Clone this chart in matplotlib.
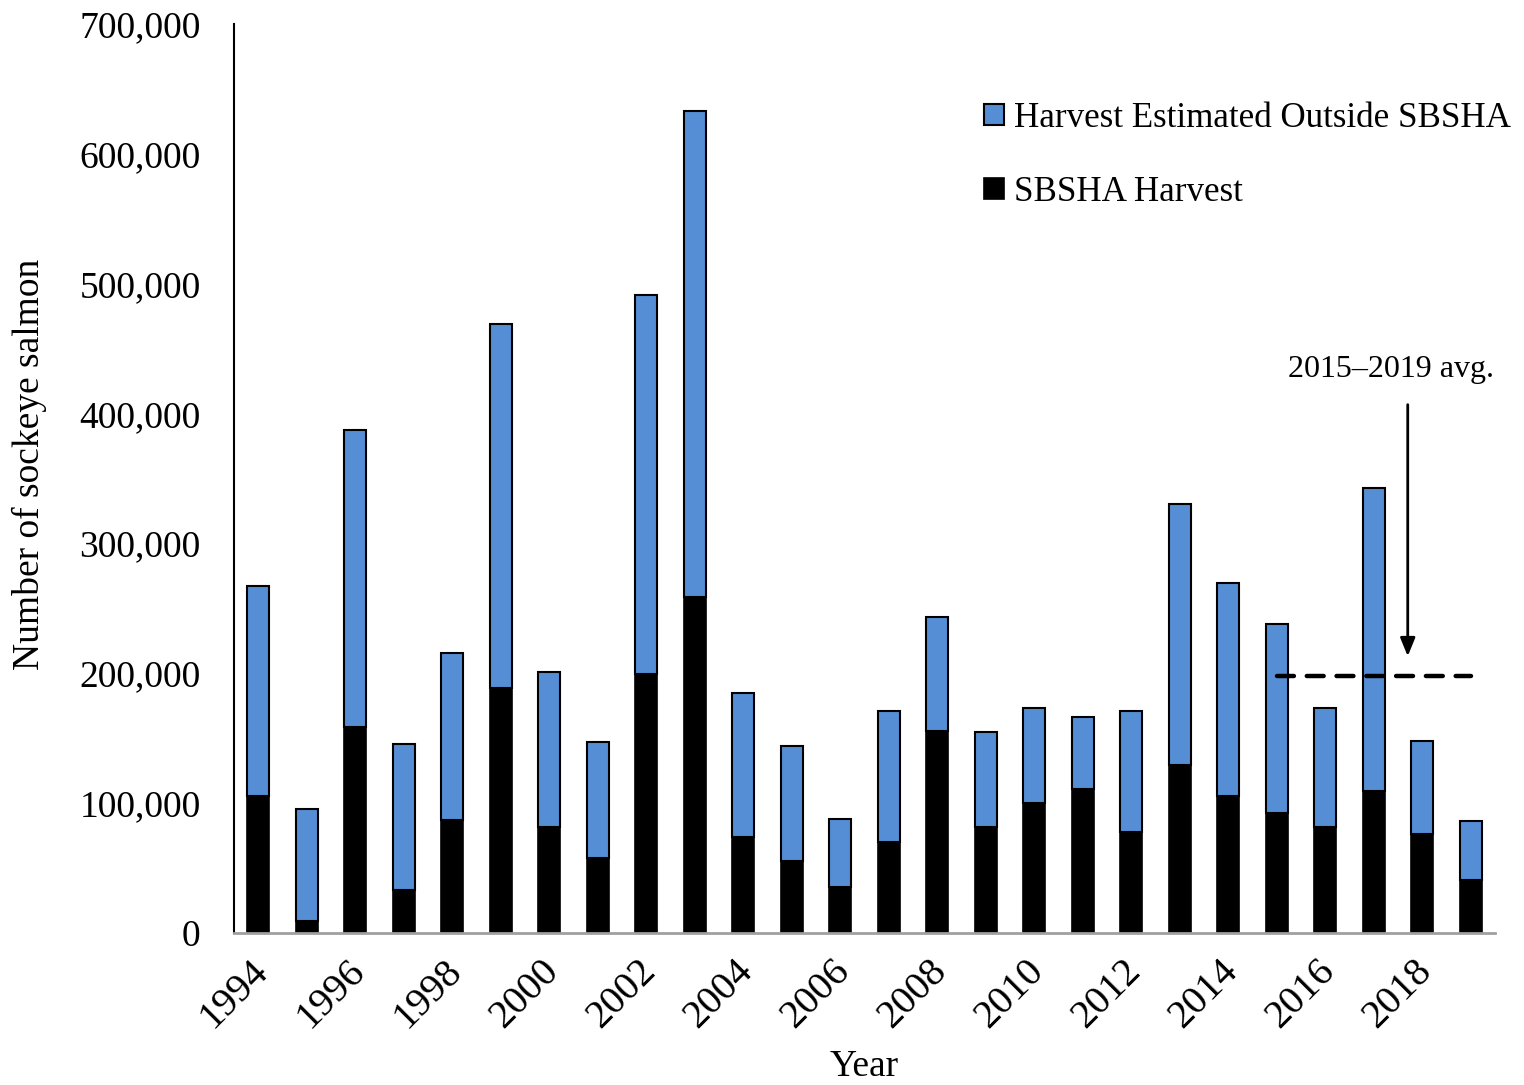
import matplotlib
matplotlib.use("Agg")
import matplotlib.pyplot as plt
from matplotlib.ticker import FuncFormatter
from matplotlib.transforms import ScaledTranslation
import numpy as np

years = list(range(1994, 2020))
sbsha = [105500, 9000, 158600, 33000, 87000, 188600, 81600, 57700, 199400, 258700,
         74000, 55400, 35400, 70000, 155500, 81600, 100000, 110900, 77800, 129300,
         105500, 92400, 81600, 109300, 76200, 40800]
total = [267000, 95500, 387000, 145500, 215500, 469000, 201000, 147000, 491000, 633000,
         184800, 144000, 87800, 171000, 243000, 154700, 173000, 166000, 171000, 330000,
         269400, 237900, 173000, 343000, 147800, 86200]
outside = [t - s for t, s in zip(total, sbsha)]
avg_years = [2015, 2016, 2017, 2018, 2019]
avg_val = np.mean([total[years.index(y)] for y in avg_years])

plt.rcParams['font.family'] = ['Liberation Serif', 'DejaVu Serif']

fig = plt.figure(figsize=(15.24, 10.85), dpi=100)
ax = fig.add_axes([0.1535, 0.1401, 0.981 - 0.1535, 0.9779 - 0.1401])

x = np.arange(len(years))
w = 0.45
ax.bar(x, sbsha, w, color='black', edgecolor='black', linewidth=1.2, label='SBSHA Harvest', zorder=2)
ax.bar(x, outside, w, bottom=sbsha, color='#558ed5', edgecolor='black', linewidth=1.5,
       label='Harvest Estimated Outside SBSHA', zorder=2)

i0 = years.index(avg_years[0])
i1 = years.index(avg_years[-1])
ax.plot([i0, i1], [avg_val, avg_val], color='black', linestyle=(0, (3.8, 2.9)), linewidth=3.2,
        dash_capstyle='round', zorder=3)
ax.annotate('', xy=(i0 + 2.7, 211000), xytext=(i0 + 2.7, 409000),
            arrowprops=dict(arrowstyle='-|>,head_width=0.45,head_length=1.1', color='black', lw=2))
ax.text(i0 + 2.35, 423000, '2015\u20132019 avg.', fontsize=23, ha='center', va='bottom')

ax.set_xlim(-0.5, len(years) - 0.5)
ax.set_ylim(0, 700000)
ax.set_yticks(np.arange(0, 700001, 100000))
ax.yaxis.set_major_formatter(FuncFormatter(lambda v, p: f'{int(v):,}'))
ax.set_xticks(x[::2])
ax.set_xticklabels([str(y) for y in years[::2]], rotation=45, ha='right', rotation_mode='anchor')
ax.tick_params(axis='both', length=0, labelsize=27)
ax.tick_params(axis='y', pad=24)
ax.tick_params(axis='x', pad=14, labelsize=29)
shift = ScaledTranslation(-9 / 100, 0, fig.dpi_scale_trans)
for lbl in ax.get_xticklabels():
    lbl.set_transform(lbl.get_transform() + shift)

for s in ['top', 'right']:
    ax.spines[s].set_visible(False)
ax.spines['left'].set_color('black')
ax.spines['left'].set_linewidth(1.5)
ax.spines['bottom'].set_color('#a0a0a0')
ax.spines['bottom'].set_linewidth(2)

ax.set_ylabel('Number of sockeye salmon', fontsize=27)
ax.yaxis.set_label_coords(-0.148, 0.515)
ax.set_xlabel('Year', fontsize=27)
ax.xaxis.set_label_coords(0.5, -0.128)

handles, labels = ax.get_legend_handles_labels()
leg = ax.legend(handles[::-1], labels[::-1], loc='upper left', bbox_to_anchor=(0.584, 0.93),
                frameon=False, fontsize=25.2, handlelength=0.55, handleheight=0.55,
                handletextpad=0.3, labelspacing=1.17, borderaxespad=0)

fig.savefig('out.png', dpi=100)
